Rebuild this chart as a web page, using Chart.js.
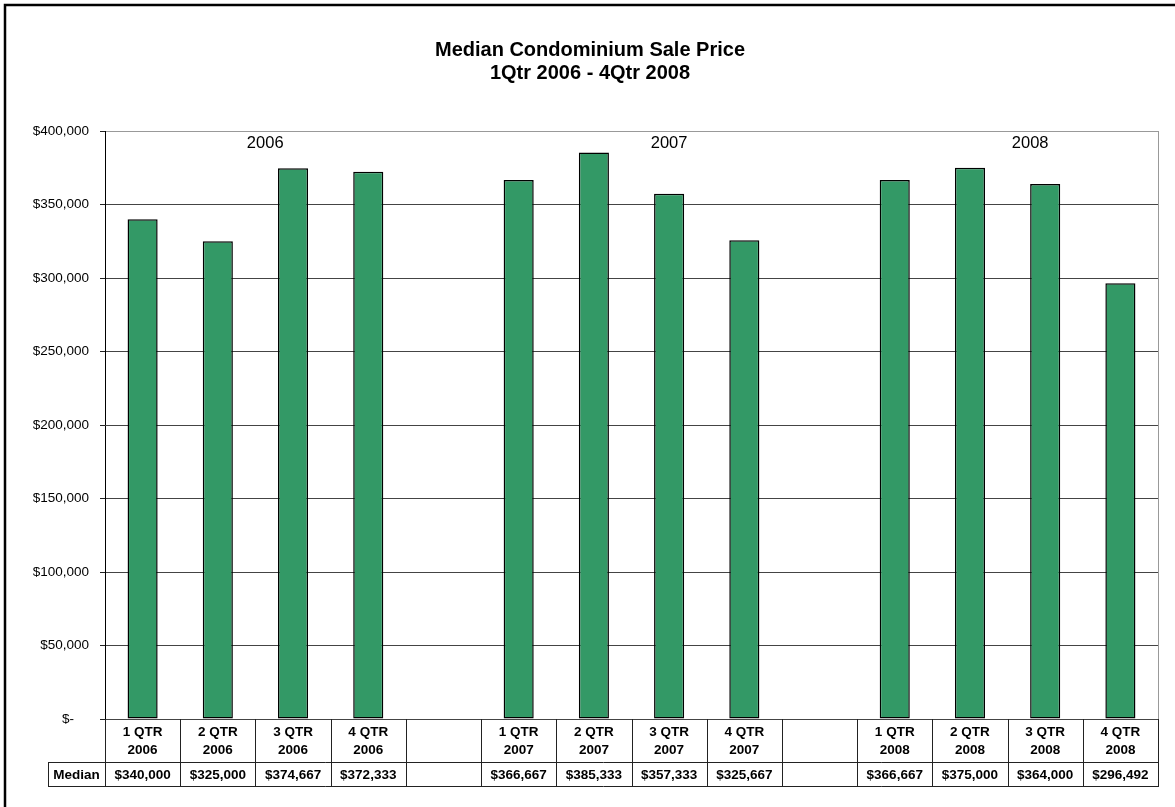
<!DOCTYPE html>
<html>
<head>
<meta charset="utf-8">
<script src="https://cdn.jsdelivr.net/npm/chart.js@4/dist/chart.umd.min.js"></script>
<style>
  html, body { margin: 0; padding: 0; background: #fff; }
</style>
</head>
<body>
<canvas id="myChart" width="1175" height="807"></canvas>
<script>
/* globals Chart:false */

// Data
const quarters = ['1 QTR', '2 QTR', '3 QTR', '4 QTR', '', '1 QTR', '2 QTR', '3 QTR', '4 QTR', '', '1 QTR', '2 QTR', '3 QTR', '4 QTR']
const years = ['2006', '2006', '2006', '2006', '', '2007', '2007', '2007', '2007', '', '2008', '2008', '2008', '2008']
const medians = [340000, 325000, 374667, 372333, null, 366667, 385333, 357333, 325667, null, 366667, 375000, 364000, 296492]
const yearLabels = ['2006', '2007', '2008']
const titleLines = ['Median Condominium Sale Price', '1Qtr 2006 - 4Qtr 2008']
const rowLabel = 'Median'

const FONT = 'Liberation Sans, Arial, Helvetica, sans-serif'
const money = v => '$' + v.toLocaleString('en-US')

const sheetPlugin = {
  id: 'sheet',
  beforeDraw (chart) {
    const ctx = chart.ctx
    ctx.save()
    ctx.fillStyle = '#fff'
    ctx.fillRect(0, 0, chart.width, chart.height)
    // outer frame
    ctx.strokeStyle = '#000'
    ctx.lineWidth = 2.5
    ctx.beginPath()
    ctx.moveTo(5, chart.height)
    ctx.lineTo(5, 5)
    ctx.lineTo(chart.width, 5)
    ctx.stroke()
    // title
    ctx.fillStyle = '#000'
    ctx.font = 'bold 20px ' + FONT
    ctx.textAlign = 'center'
    ctx.textBaseline = 'middle'
    ctx.fillText(titleLines[0], 590, 50)
    ctx.fillText(titleLines[1], 590, 73)
    ctx.restore()
  },
  afterDraw (chart) {
    const ctx = chart.ctx
    const x = chart.scales.x
    const y = chart.scales.y
    const a = chart.chartArea
    const n = quarters.length
    const row1 = a.bottom + 43
    const row2 = row1 + 24
    const labelLeft = 48

    ctx.save()
    // right border of plot area
    ctx.strokeStyle = '#999'
    ctx.lineWidth = 1
    ctx.beginPath()
    ctx.moveTo(a.right + 0.5, a.top)
    ctx.lineTo(a.right + 0.5, a.bottom)
    ctx.stroke()

    // year annotations
    const yearAt = [1.63, 7.0, 11.8]
    ctx.fillStyle = '#000'
    ctx.font = '16.5px ' + FONT
    ctx.textAlign = 'center'
    ctx.textBaseline = 'middle'
    yearLabels.forEach((t, i) => {
      ctx.fillText(t, x.getPixelForValue(yearAt[i]), y.getPixelForValue(391500))
    })

    // data table grid
    ctx.strokeStyle = '#222'
    ctx.lineWidth = 1
    ctx.beginPath()
    for (let i = 0; i <= n; i++) {
      const px = Math.round(x.getPixelForValue(i - 0.5)) + 0.5
      ctx.moveTo(px, a.bottom)
      ctx.lineTo(px, row2)
    }
    ctx.moveTo(labelLeft, row1 + 0.5)
    ctx.lineTo(a.right + 1, row1 + 0.5)
    ctx.moveTo(labelLeft, row2 + 0.5)
    ctx.lineTo(a.right + 1, row2 + 0.5)
    ctx.moveTo(labelLeft + 0.5, row1)
    ctx.lineTo(labelLeft + 0.5, row2)
    ctx.stroke()

    // data table text
    ctx.font = 'bold 13.5px ' + FONT
    ctx.fillText(rowLabel, (labelLeft + a.left) / 2, row1 + 13)
    for (let i = 0; i < n; i++) {
      const cx = x.getPixelForValue(i)
      ctx.fillText(quarters[i], cx, a.bottom + 13)
      ctx.fillText(years[i], cx, a.bottom + 31)
      if (medians[i] !== null) ctx.fillText(money(medians[i]), cx, row1 + 13)
    }
    ctx.restore()
  }
}

const ctx = document.getElementById('myChart')
// eslint-disable-next-line no-unused-vars
const myChart = new Chart(ctx, {
  type: 'bar',
  data: {
    labels: quarters.map((q, i) => q + ' ' + years[i]),
    datasets: [{
      label: rowLabel,
      data: medians,
      backgroundColor: '#339966',
      borderColor: '#000',
      borderWidth: 1.5,
      borderSkipped: false,
      barPercentage: 0.4,
      categoryPercentage: 1
    }]
  },
  options: {
    responsive: false,
    animation: false,
    layout: {
      padding: { left: 0, top: 131, right: 17, bottom: 88 }
    },
    plugins: {
      legend: { display: false },
      tooltip: { enabled: false },
      title: { display: false }
    },
    scales: {
      x: {
        display: false,
        offset: true
      },
      y: {
        min: 0,
        max: 400000,
        afterFit: scale => { scale.width = 105 },
        ticks: {
          stepSize: 50000,
          padding: 11,
          color: '#000',
          font: { family: FONT, size: 13.5 },
          callback: v => v === 0 ? '$-    ' : money(v)
        },
        grid: {
          tickLength: 5,
          color: c => c.tick && c.tick.value === 400000 ? '#999' : '#444',
          tickColor: '#222'
        },
        border: { color: '#000', width: 1 }
      }
    }
  },
  plugins: [sheetPlugin]
})
</script>
</body>
</html>
